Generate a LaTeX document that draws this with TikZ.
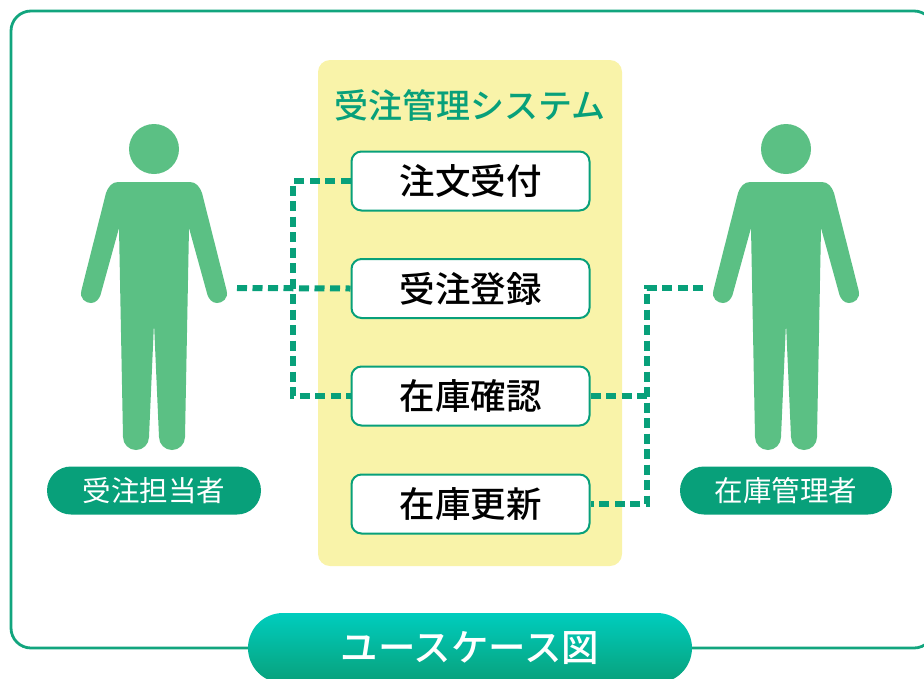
\documentclass[tikz,border=0pt]{standalone}
\usepackage{fontspec}
\setmainfont{Noto Sans CJK JP}
\newfontfamily\mediumfont{Noto Sans CJK JP Medium}
\usetikzlibrary{positioning}
\definecolor{framegreen}{HTML}{12A57E}
\definecolor{linkgreen}{HTML}{08A07A}
\definecolor{bodygreen}{HTML}{5BC084}
\definecolor{panelyellow}{HTML}{F9F3A9}
\definecolor{titletop}{HTML}{00CDBE}
\tikzset{
  usecase/.style={draw=linkgreen, line width=2pt, fill=white, rounded corners=10pt,
    minimum width=238pt, minimum height=59pt, font=\mediumfont\fontsize{35.5}{35.5}\selectfont, inner sep=0pt},
  actorname/.style={fill=linkgreen, rounded corners=24pt, minimum height=48pt,
    text=white, font=\fontsize{28.5}{28.5}\selectfont, inner sep=0pt},
  link/.style={draw=linkgreen, line width=6pt, dash pattern=on 10pt off 5.5pt},
  person/.pic={
    \fill[bodygreen] (0,0) circle (25);
    \fill[bodygreen] (-36,33) -- (36,33) .. controls (42,33) and (46,38) .. (48,44)
      -- (72.5,141) .. controls (75,150) and (68,154) .. (63,154)
      .. controls (58,154) and (55,150) .. (53.5,146)
      -- (35,79) -- (31,288) arc[start angle=0,end angle=180,radius=13]
      -- (0,174) -- (-5,288) arc[start angle=0,end angle=180,radius=13]
      -- (-35,79) -- (-53.5,146) .. controls (-55,150) and (-58,154) .. (-63,154)
      .. controls (-68,154) and (-75,150) .. (-72.5,141)
      -- (-48,44) .. controls (-46,38) and (-42,33) .. (-36,33) -- cycle;
  }
}
\begin{document}
\begin{tikzpicture}[x=1pt,y=-1pt]
  \useasboundingbox (0,0) rectangle (924,678);
  \clip (0,0) rectangle (924,678);
  \draw[framegreen, line width=2.8pt, rounded corners=20pt] (11,11) rectangle (934,648);

  \node[fill=panelyellow, rounded corners=12pt, minimum width=304pt, minimum height=506pt, inner sep=0pt] (panel) at (470,313) {};
  \node[text=linkgreen, font=\mediumfont\fontsize{34}{34}\selectfont, inner sep=0pt] (paneltitle) at (470,105) {受注管理システム};

  \node[usecase] (order) at (470.5,181) {注文受付};
  \node[usecase] (entry) at (470.5,288.5) {受注登録};
  \node[usecase] (check) at (470.5,396) {在庫確認};
  \node[usecase] (update) at (470.5,504) {在庫更新};

  \pic at (154,149) {person};
  \pic at (786,149) {person};
  \node[actorname, minimum width=214pt] (clerk) at (154,490.5) {受注担当者};
  \node[actorname, minimum width=212pt] (keeper) at (786,490.5) {在庫管理者};

  % left side
  \coordinate (clerkhand) at (237,288);
  \coordinate (clerkjoin) at (293,288);
  \draw[link] (clerkhand) -- (entry.west);
  \draw[link] (order.west) -| (clerkjoin) |- (check.west);
  % right side
  \coordinate (keeperhand) at (703,288);
  \coordinate (keeperjoin) at (647,396);
  \draw[link] (keeperhand) -| (keeperjoin) |- (update.east);
  \draw[link] (check.east) -- (keeperjoin);

  \node[top color=titletop, bottom color=linkgreen, rounded corners=35pt, minimum width=444pt, minimum height=70pt,
    text=white, font=\mediumfont\fontsize{37.5}{37.5}\selectfont, inner sep=0pt] (title) at (470,648) {ユースケース図};
\end{tikzpicture}
\end{document}
